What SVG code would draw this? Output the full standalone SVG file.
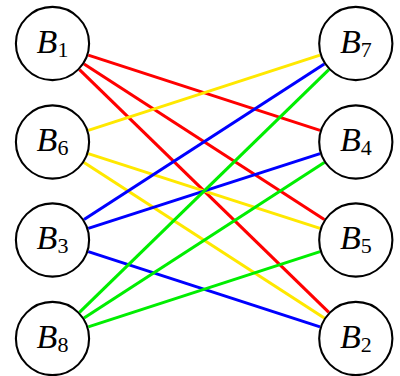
<svg xmlns="http://www.w3.org/2000/svg" width="400" height="376" viewBox="0 0 400 376">
<style>
.e{stroke-width:3.1;fill:none;stroke-linecap:butt}
.r{stroke:#ff0000}.y{stroke:#ffe800}.b{stroke:#0000ff}.g{stroke:#00ee00}
.n circle{fill:#fff;stroke:#000;stroke-width:2.1}
.n text{font-family:"Liberation Serif","DejaVu Serif",serif;font-size:34px;font-style:italic;text-anchor:middle;fill:#000}
.n tspan{font-style:normal;font-size:22px}
</style>
<rect width="400" height="376" fill="#fff"/>
<g id="connectors">
<line class="e r" x1="88.26" y1="55.11" x2="320.04" y2="130.39"/>
<line class="e r" x1="84.03" y1="63.98" x2="324.27" y2="219.52"/>
<line class="e r" x1="79.45" y1="69.72" x2="328.85" y2="312.28"/>
<line class="e y" x1="88.26" y1="130.39" x2="320.04" y2="55.11"/>
<line class="e y" x1="88.26" y1="153.61" x2="320.04" y2="228.39"/>
<line class="e y" x1="84.03" y1="162.48" x2="324.27" y2="318.02"/>
<line class="e b" x1="84.03" y1="219.52" x2="324.27" y2="63.98"/>
<line class="e b" x1="88.26" y1="228.39" x2="320.04" y2="153.61"/>
<line class="e b" x1="88.26" y1="251.61" x2="320.04" y2="326.89"/>
<line class="e g" x1="79.45" y1="312.28" x2="328.85" y2="69.72"/>
<line class="e g" x1="84.03" y1="318.02" x2="324.27" y2="162.48"/>
<line class="e g" x1="88.26" y1="326.89" x2="320.04" y2="251.61"/>
</g>
<g id="B1" class="n"><circle cx="52.5" cy="43.5" r="36.6"/><text x="52.5" y="52.7">B<tspan dy="4">1</tspan></text></g>
<g id="B6" class="n"><circle cx="52.5" cy="142" r="36.6"/><text x="52.5" y="151.2">B<tspan dy="4">6</tspan></text></g>
<g id="B3" class="n"><circle cx="52.5" cy="240" r="36.6"/><text x="52.5" y="249.2">B<tspan dy="4">3</tspan></text></g>
<g id="B8" class="n"><circle cx="52.5" cy="338.5" r="36.6"/><text x="52.5" y="347.7">B<tspan dy="4">8</tspan></text></g>
<g id="B7" class="n"><circle cx="355.8" cy="43.5" r="36.6"/><text x="355.8" y="52.7">B<tspan dy="4">7</tspan></text></g>
<g id="B4" class="n"><circle cx="355.8" cy="142" r="36.6"/><text x="355.8" y="151.2">B<tspan dy="4">4</tspan></text></g>
<g id="B5" class="n"><circle cx="355.8" cy="240" r="36.6"/><text x="355.8" y="249.2">B<tspan dy="4">5</tspan></text></g>
<g id="B2" class="n"><circle cx="355.8" cy="338.5" r="36.6"/><text x="355.8" y="347.7">B<tspan dy="4">2</tspan></text></g>
</svg>
